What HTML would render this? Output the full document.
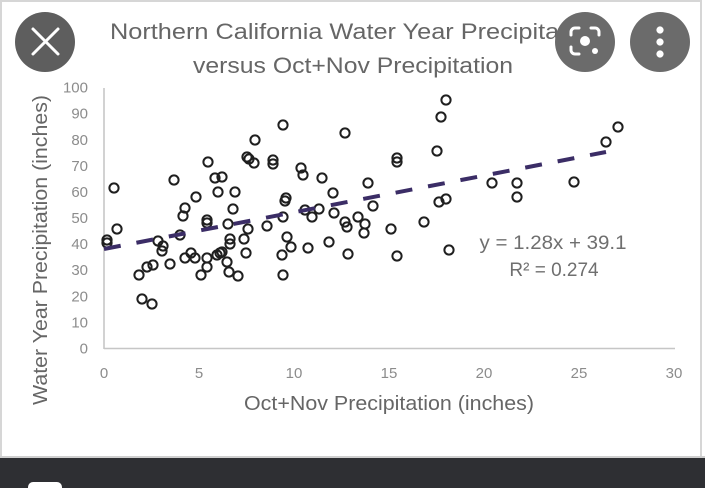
<!DOCTYPE html>
<html>
<head>
<meta charset="utf-8">
<style>
  html, body { margin: 0; padding: 0; background: #ffffff; }
  body { width: 705px; height: 488px; overflow: hidden; }
  svg { display: block; }
  text { font-family: "Liberation Sans", "DejaVu Sans", sans-serif; }
</style>
</head>
<body>
<svg width="705" height="488" viewBox="0 0 705 488" xmlns="http://www.w3.org/2000/svg">
  <defs>
    <marker id="pt" markerUnits="userSpaceOnUse" markerWidth="14" markerHeight="14" refX="7" refY="7" overflow="visible">
      <circle cx="7" cy="7" r="4.6" fill="none" stroke="#1f1f1f" stroke-width="2"/>
    </marker>
  </defs>

  <rect x="0" y="0" width="705" height="488" fill="#ffffff"/>
  <rect x="1" y="1" width="700" height="456" fill="#ffffff" stroke="#d6d6d6" stroke-width="2"/>

  <text x="355" y="39" font-size="22" fill="#666666" text-anchor="middle" textLength="490" lengthAdjust="spacingAndGlyphs">Northern California Water Year Precipitation</text>
  <text x="353" y="73" font-size="22" fill="#666666" text-anchor="middle" textLength="320" lengthAdjust="spacingAndGlyphs">versus Oct+Nov Precipitation</text>

  <line x1="104" y1="88" x2="104" y2="349" stroke="#c6c6c6" stroke-width="1.6"/>
  <line x1="104" y1="348.5" x2="675" y2="348.5" stroke="#c6c6c6" stroke-width="1.6"/>

  <g font-size="15" fill="#8c8c8c" text-anchor="end">
    <text x="88" y="353.5">0</text>
    <text x="88" y="327.5">10</text>
    <text x="88" y="301.5">20</text>
    <text x="88" y="275">30</text>
    <text x="88" y="249">40</text>
    <text x="88" y="223">50</text>
    <text x="88" y="197">60</text>
    <text x="88" y="171">70</text>
    <text x="88" y="145">80</text>
    <text x="88" y="118.5">90</text>
    <text x="88" y="92.5">100</text>
  </g>

  <g font-size="15" fill="#8c8c8c" text-anchor="middle">
    <text x="104" y="378">0</text>
    <text x="199" y="378">5</text>
    <text x="294" y="378">10</text>
    <text x="389" y="378">15</text>
    <text x="484" y="378">20</text>
    <text x="579" y="378">25</text>
    <text x="674" y="378">30</text>
  </g>

  <text x="389" y="410" font-size="20" fill="#666666" text-anchor="middle" textLength="290" lengthAdjust="spacingAndGlyphs">Oct+Nov Precipitation (inches)</text>
  <text transform="translate(47,250) rotate(-90)" x="0" y="0" font-size="20" fill="#666666" text-anchor="middle" textLength="310" lengthAdjust="spacingAndGlyphs">Water Year Precipitation (inches)</text>

  <polyline fill="none" stroke="none" marker-start="url(#pt)" marker-mid="url(#pt)" marker-end="url(#pt)"
    points="107,240 107,243 117,229 114,188 139,275 147,267 153,265 142,299 152,304 158,241 163,246 162,251 170,264 174,180 180,235 185,208 183,216 185,258 191,253 195,258 196,197 201,275 207,220 207,223 207,267 207,258 208,162 215,178 222,177 218,192 235,192 233,209 228,224 217,255 220,253 222,252 227,262 229,272 238,276 230,239 230,244 244,239 248,229 246,253 247,157 249,159 254,163 255,140 267,226 273,160 273,164 283,217 286,198 285,201 287,237 291,247 282,255 283,275 283,125 301,168 303,175 322,178 333,193 305,210 312,217 319,209 334,213 345,222 347,227 358,217 365,224 364,233 329,242 308,248 348,254 345,133 368,183 373,206 391,229 397,158 397,162 397,256 424,222 437,151 441,117 446,100 439,202 446,199 449,250 492,183 517,183 517,197 574,182 606,142 618,127"/>

  <line x1="104" y1="249" x2="606" y2="152" stroke="#3b2d66" stroke-width="4" stroke-dasharray="17 16"/>

  <text x="553" y="249" font-size="19" fill="#6f6f6f" text-anchor="middle" textLength="147" lengthAdjust="spacingAndGlyphs">y = 1.28x + 39.1</text>
  <text x="554" y="276" font-size="19" fill="#6f6f6f" text-anchor="middle">R² = 0.274</text>

  <circle cx="45" cy="42" r="30" fill="#5e5e5e"/>
  <path d="M33 29 L58 54 M58 29 L33 54" stroke="#ffffff" stroke-width="3" stroke-linecap="round"/>

  <circle cx="585" cy="42" r="30" fill="#6b6b6b"/>
  <path d="M571 35 V32 a4 4 0 0 1 4 -4 H579 M591 28 H595 a4 4 0 0 1 4 4 V35 M571 47 V50 a4 4 0 0 0 4 4 H579" fill="none" stroke="#ffffff" stroke-width="3" stroke-linecap="round"/>
  <circle cx="585" cy="41" r="5" fill="#ffffff"/>
  <circle cx="595" cy="51" r="3" fill="#ffffff"/>

  <circle cx="660" cy="42" r="30" fill="#6b6b6b"/>
  <path d="M660 26.4 a3.6 3.6 0 1 0 0.01 0 M660 38.4 a3.6 3.6 0 1 0 0.01 0 M660 50.4 a3.6 3.6 0 1 0 0.01 0" fill="#ffffff"/>

  <rect x="0" y="456" width="705" height="2" fill="#cfcfcf"/>
  <rect x="0" y="458" width="705" height="30" fill="#2e2f33"/>
  <path d="M28 488 V487 a5 5 0 0 1 5 -5 H57 a5 5 0 0 1 5 5 V488 Z" fill="#ffffff"/>
</svg>
</body>
</html>
